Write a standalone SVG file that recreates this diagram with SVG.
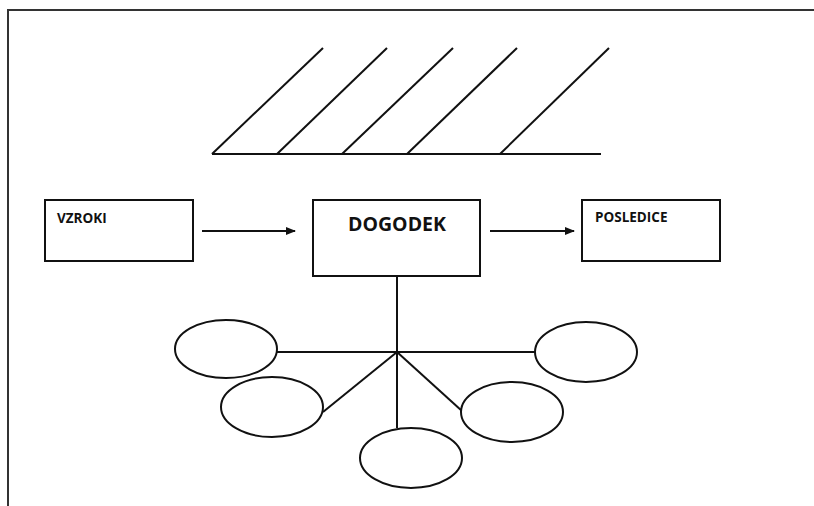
<svg xmlns="http://www.w3.org/2000/svg" width="814" height="506" viewBox="0 0 814 506">
<defs>
<style>
.ln{stroke:#111;stroke-width:2;fill:none}
.box{stroke:#111;stroke-width:2;fill:#fff}
.el{stroke:#111;stroke-width:2;fill:#fff}
.lbl{font-family:"Open Sans","Liberation Sans",sans-serif;font-weight:bold;fill:#111}
</style>
<marker id="ah" markerWidth="10" markerHeight="8" refX="9" refY="4" orient="auto" markerUnits="userSpaceOnUse">
<path d="M0,0 L10,4 L0,8 Z" fill="#111"/>
</marker>
</defs>
<rect width="814" height="506" fill="#fff"/>
<path d="M8,506 L8,10 L814,10" stroke="#333" stroke-width="2" fill="none"/>
<g id="hatch">
<line class="ln" x1="212" y1="154" x2="601" y2="154"/>
<line class="ln" x1="212" y1="154" x2="323" y2="48"/>
<line class="ln" x1="277" y1="154" x2="387" y2="48"/>
<line class="ln" x1="342" y1="154" x2="453" y2="48"/>
<line class="ln" x1="407" y1="154" x2="517" y2="48"/>
<line class="ln" x1="500" y1="154" x2="609" y2="48"/>
</g>
<g id="connectors">
<line class="ln" x1="202" y1="231" x2="295" y2="231" marker-end="url(#ah)"/>
<line class="ln" x1="490" y1="231" x2="574" y2="231" marker-end="url(#ah)"/>
<line class="ln" x1="397" y1="276" x2="397" y2="428"/>
<line class="ln" x1="277" y1="352" x2="535" y2="352"/>
<line class="ln" x1="397" y1="352" x2="323" y2="412"/>
<line class="ln" x1="397" y1="352" x2="462" y2="411"/>
</g>
<g id="vzroki">
<rect class="box" x="45" y="200" width="148" height="61"/>
<text class="lbl" x="57" y="223" font-size="13.5">VZROKI</text>
</g>
<g id="dogodek">
<rect class="box" x="313" y="200" width="167" height="76"/>
<text class="lbl" x="397" y="231" font-size="19.5" text-anchor="middle">DOGODEK</text>
</g>
<g id="posledice">
<rect class="box" x="582" y="200" width="138" height="61"/>
<text class="lbl" x="595" y="222" font-size="13.5">POSLEDICE</text>
</g>
<g id="e1"><ellipse class="el" cx="226" cy="349" rx="51" ry="29"/></g>
<g id="e2"><ellipse class="el" cx="586" cy="352" rx="51" ry="30"/></g>
<g id="e3"><ellipse class="el" cx="272" cy="407" rx="51" ry="30"/></g>
<g id="e4"><ellipse class="el" cx="512" cy="412" rx="51" ry="30"/></g>
<g id="e5"><ellipse class="el" cx="411" cy="458" rx="51" ry="30"/></g>
</svg>
